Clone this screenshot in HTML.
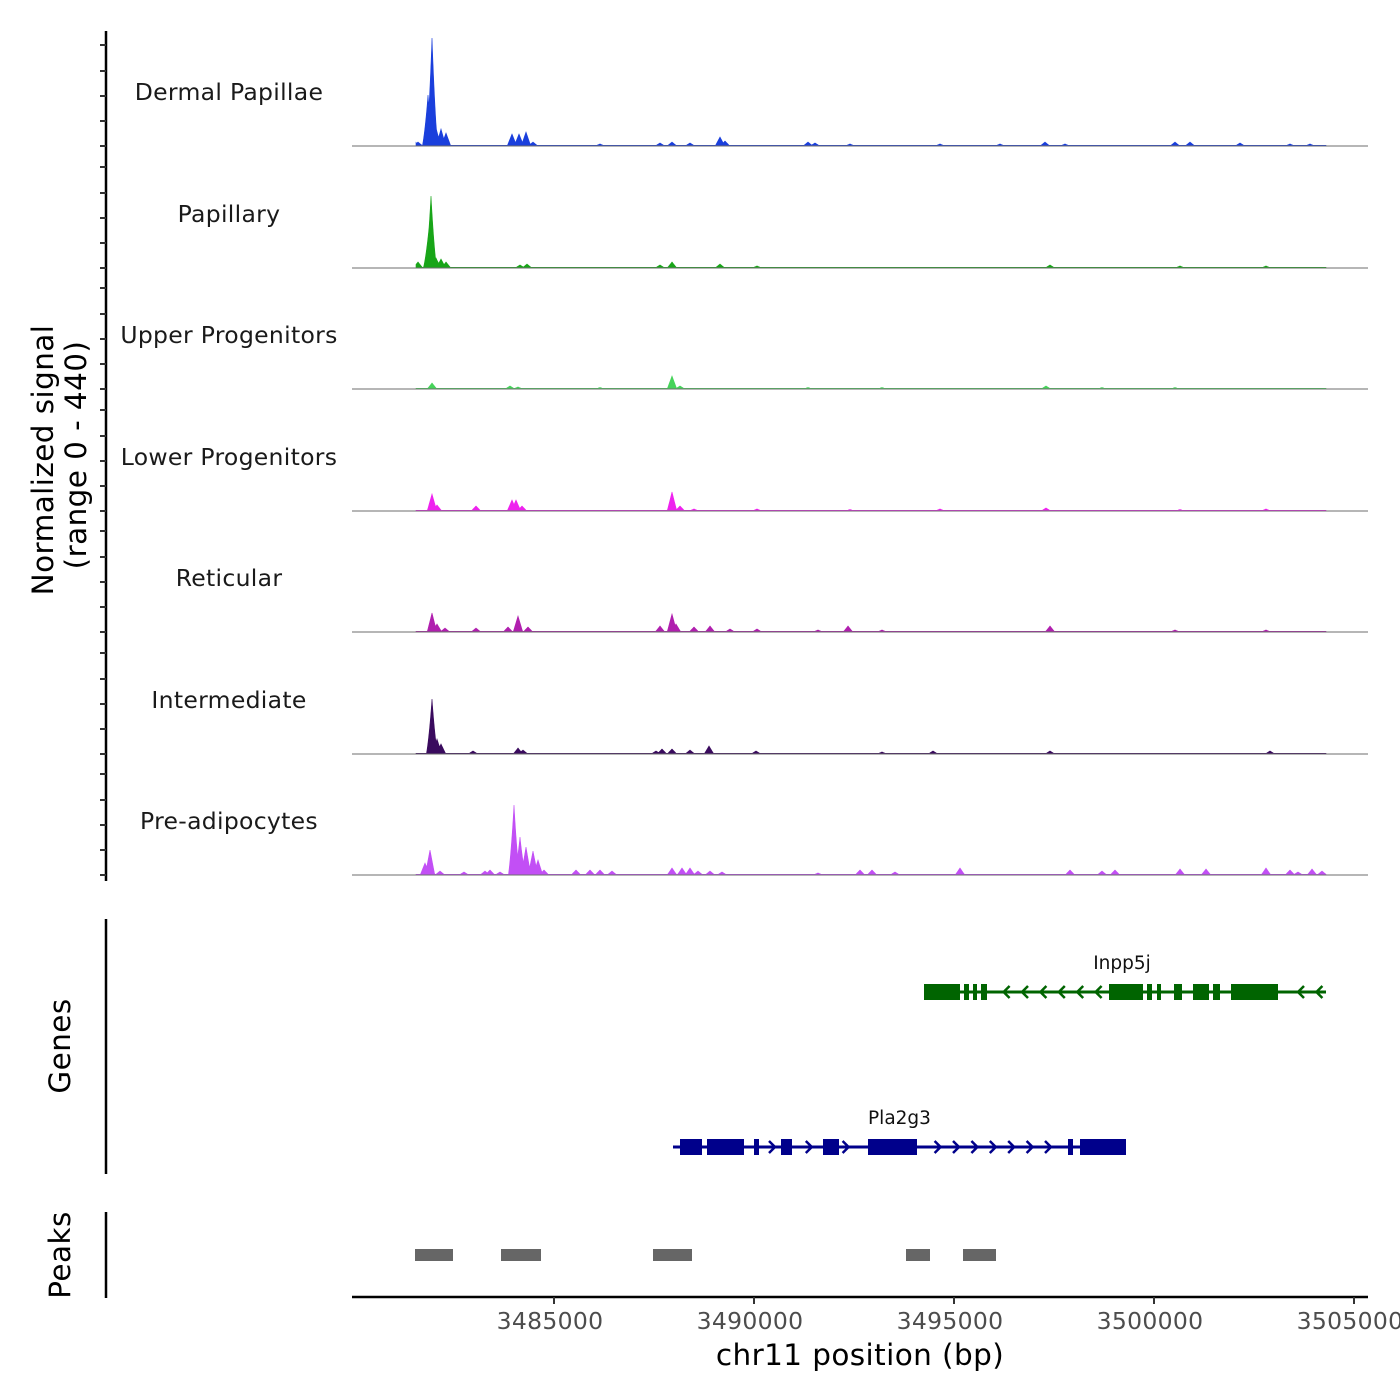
<!DOCTYPE html>
<html><head><meta charset="utf-8"><style>
html,body{margin:0;padding:0;background:#fff;}
svg{display:block;font-family:"DejaVu Sans","Liberation Sans",sans-serif;}
</style></head><body>
<svg id="chart" width="1400" height="1400" viewBox="0 0 1400 1400" xmlns="http://www.w3.org/2000/svg">
<g id="tracks"></g>
<g id="genes"></g>
<g id="peaks"></g>
<g id="axes"></g>
</svg>
<script>
// ---- data (positions in kb on chr11, values on 0-440 normalized scale) ----
const trackNames = ["Dermal Papillae","Papillary","Upper Progenitors","Lower Progenitors","Reticular","Intermediate","Pre-adipocytes"];
const dpPos = [3481.5,3481.6,3481.85,3481.95,3482.05,3482.175,3482.3,3483.95,3484.125,3484.3,3484.475,3486.15,3487.65,3487.95,3488.4,3489.15,3489.275,3491.35,3491.525,3492.4,3494.65,3496.15,3497.275,3497.775,3500.525,3500.9,3502.15,3503.4,3503.9];
const dpVal = [24,16,204,432,72,68,52,48,48,56,16,8,12,16,12,36,20,16,12,8,8,8,16,8,16,16,12,8,8];
const paPos = [3481.6,3481.875,3481.925,3482.05,3482.175,3482.3,3484.15,3484.325,3487.65,3487.95,3489.15,3490.075,3497.4,3500.65,3502.8];
const paVal = [24,160,288,40,36,24,12,16,12,24,16,8,12,8,8];
const upPos = [3481.95,3483.9,3484.1,3486.15,3487.95,3488.15,3491.35,3493.2,3497.3,3498.7,3500.525];
const upVal = [24,12,8,6,52,12,6,6,12,6,6];
const loPos = [3481.95,3482.075,3483.05,3483.95,3484.05,3484.2,3487.95,3488.15,3488.5,3490.075,3492.4,3494.65,3497.3,3500.65,3502.8];
const loVal = [68,24,20,44,44,20,76,20,8,8,6,8,12,6,8];
const rePos = [3481.95,3482.075,3482.275,3483.05,3483.85,3484.1,3484.35,3487.65,3487.95,3488.05,3488.5,3488.9,3489.4,3490.075,3491.6,3492.35,3493.2,3497.4,3500.525,3502.8];
const reVal = [76,32,16,16,20,64,20,24,72,32,20,24,12,12,8,24,8,24,8,8];
const inPos = [3481.95,3482.075,3482.175,3482.975,3484.1,3484.225,3487.55,3487.7,3487.95,3488.4,3488.875,3490.05,3493.2,3494.475,3497.4,3502.9];
const inVal = [220,60,40,12,24,16,12,20,20,16,32,12,8,12,12,12];
const adPos = [3481.775,3481.9,3482.15,3482.75,3483.275,3483.4,3483.65,3484.0,3484.15,3484.3,3484.475,3484.6,3484.75,3485.55,3485.9,3486.15,3486.45,3487.95,3488.2,3488.4,3488.6,3488.9,3489.2,3491.6,3492.65,3492.95,3493.525,3495.15,3497.9,3498.7,3499.025,3500.65,3501.3,3502.8,3503.4,3503.6,3503.95,3504.2];
const adVal = [48,100,16,12,16,20,12,280,152,112,96,60,20,20,20,20,16,28,28,28,16,16,12,8,20,20,12,28,20,16,20,24,24,28,20,12,24,16];
const trackPos = [dpPos,paPos,upPos,loPos,rePos,inPos,adPos];
const trackVal = [dpVal,paVal,upVal,loVal,reVal,inVal,adVal];
const trackColors = ["#1a3fdc","#18a518","#46d35a","#ee22ee","#b01fae","#3a0b5e","#c24ff5"];
const dataRange = [3481.55,3504.3];

const g1Name = "Inpp5j";
const g1Span = [3494.25,3504.3];
const g1ExStart = [3494.25,3495.25,3495.475,3495.675,3498.875,3499.825,3500.075,3500.5,3500.975,3501.475,3501.925];
const g1ExEnd   = [3495.15,3495.375,3495.575,3495.825,3499.725,3499.95,3500.175,3500.7,3501.375,3501.65,3503.1];
const g2Name = "Pla2g3";
const g2Span = [3487.975,3499.3];
const g2ExStart = [3488.15,3488.825,3490.0,3490.675,3491.725,3492.85,3497.85,3498.15];
const g2ExEnd   = [3488.7,3489.75,3490.125,3490.95,3492.125,3494.075,3497.975,3499.3];

const peakStart = [3481.525,3483.675,3487.475,3493.8,3495.225];
const peakEnd   = [3482.475,3484.675,3488.45,3494.4,3496.05];

const xTicks = [3485000,3490000,3495000,3500000,3505000];
const yMax = 440;

// ---- scales ----
const X0 = 352, X1 = 1368;
function xs(kb){ return 554 + (kb - 3485) * 40; }
const baselines = [146,268,389,511,632,754,875];
const pxPerUnit = 110 / yMax;
const NS = "http://www.w3.org/2000/svg";
function mk(tag, attrs, parent){ const e=document.createElementNS(NS,tag); for(const k in attrs) e.setAttribute(k,attrs[k]); parent.appendChild(e); return e; }

// ---- signal tracks ----
const T = document.getElementById('tracks');
trackNames.forEach((name,i)=>{
  const b = baselines[i];
  const grp = mk('g',{},T);
  
  
  const pos = trackPos[i], val = trackVal[i];
  let d = `M${xs(dataRange[0])},${b}`;
  for(let kb=dataRange[0]; kb<=dataRange[1]; kb+=0.0125){
    let v = 3;
    for(let j=0;j<pos.length;j++){
      const w = val[j] > 150 ? 0.14 : 0.12;
      const t = 1 - Math.abs(kb-pos[j])/w;
      if(t>0) v = Math.max(v, val[j]*(val[j]>150 ? t*t*0.4+t*0.6 : t));
    }
    d += `L${xs(kb).toFixed(2)},${(b - v*pxPerUnit).toFixed(2)}`;
  }
  d += `L${xs(dataRange[1])},${b}Z`;
  const area = mk('path',{d:d,fill:trackColors[i],stroke:trackColors[i],'stroke-width':0.6},grp);
  
  
  const base = mk('line',{x1:X0,x2:X1,y1:b,y2:b,stroke:'#6e6e6e','stroke-width':1},grp);
  
  
  const lab = mk('text',{x:229,y:b-46,'text-anchor':'middle','font-size':23.5,fill:'#1a1a1a','letter-spacing':0.3},grp);
  lab.textContent = name;
  
  
});

// ---- genes ----
const G = document.getElementById('genes');
function drawGene(name, span, es, ee, y, color, dir){
  const grp = mk('g',{},G);
  
  
  mk('line',{x1:xs(span[0]),x2:xs(span[1]),y1:y,y2:y,stroke:color,'stroke-width':3},grp);
  for(let kb=span[0]+0.2; kb<span[1]-0.1; kb+=0.46){
    let inside=false;
    for(let k=0;k<es.length;k++) if(kb>es[k]-0.12 && kb<ee[k]+0.12) inside=true;
    if(inside) continue;
    const x = xs(kb);
    const p = dir>0 ? `M${x-4},${y-6}L${x+2},${y}L${x-4},${y+6}` : `M${x+4},${y-6}L${x-2},${y}L${x+4},${y+6}`;
    const a = mk('path',{d:p,fill:'none',stroke:color,'stroke-width':2.5},grp);
    
    
  }
  for(let k=0;k<es.length;k++){
    const r = mk('rect',{x:xs(es[k]),y:y-8,width:Math.max(3,xs(ee[k])-xs(es[k])),height:16,fill:color},grp);
    
    
  }
  const t = mk('text',{x:(xs(span[0])+xs(span[1]))/2 + (dir>0?0:-3),y:y-23,'text-anchor':'middle','font-size':18.5,fill:'#111'},grp);
  t.textContent = name;
  
  
}
drawGene(g1Name,g1Span,g1ExStart,g1ExEnd,992,'#006400',-1);
drawGene(g2Name,g2Span,g2ExStart,g2ExEnd,1147,'#00008b',1);

// ---- peaks ----
const P = document.getElementById('peaks');
for(let k=0;k<peakStart.length;k++){
  const r = mk('rect',{x:xs(peakStart[k]),y:1249,width:xs(peakEnd[k])-xs(peakStart[k]),height:12,fill:'#666666'},P);
  
  
}

// ---- axes ----
const A = document.getElementById('axes');
function vline(x,y1,y2,name){ const l=mk('line',{x1:x,x2:x,y1:y1,y2:y2,stroke:'#000','stroke-width':2.5},A);   }
vline(106,31,881,'signal-y-axis');
vline(106,919,1174,'genes-y-axis');
vline(106,1212,1298,'peaks-y-axis');
baselines.forEach(b=>{
  [101,75,50,25,0].forEach(o=>{
    const t=mk('line',{x1:100,x2:106,y1:b-o,y2:b-o,stroke:'#333','stroke-width':2},A);
    
    
  });
});
const xa = mk('line',{x1:X0,x2:X1,y1:1297,y2:1297,stroke:'#000','stroke-width':2.5},A);


xTicks.forEach(v=>{
  const x = xs(v/1000);
  const t = mk('line',{x1:x,x2:x,y1:1297,y2:1304,stroke:'#333','stroke-width':2},A);
  
  
  const l = mk('text',{x:x-4,y:1329,'text-anchor':'middle','font-size':23.5,fill:'#4d4d4d','letter-spacing':0.3},A);
  l.textContent = String(v);
  
  
});
function txt(s,attrs,name){ const t=mk('text',attrs,A); t.textContent=s;   }
txt('chr11 position (bp)',{x:860,y:1365,'text-anchor':'middle','font-size':29.5,fill:'#000','letter-spacing':0.4},'x-axis-title');
txt('Normalized signal',{x:0,y:0,transform:'translate(53,460) rotate(-90)','text-anchor':'middle','font-size':29.5,fill:'#000','letter-spacing':0.4},'y-axis-title');
txt('(range 0 - 440)',{x:0,y:0,transform:'translate(86,455) rotate(-90)','text-anchor':'middle','font-size':29.5,fill:'#000','letter-spacing':0.4},'y-axis-range');
txt('Genes',{x:0,y:0,transform:'translate(70,1046) rotate(-90)','text-anchor':'middle','font-size':29.5,fill:'#000','letter-spacing':0.4},'genes-axis-title');
txt('Peaks',{x:0,y:0,transform:'translate(70,1255) rotate(-90)','text-anchor':'middle','font-size':29.5,fill:'#000','letter-spacing':0.4},'peaks-axis-title');
</script>
</body></html>
